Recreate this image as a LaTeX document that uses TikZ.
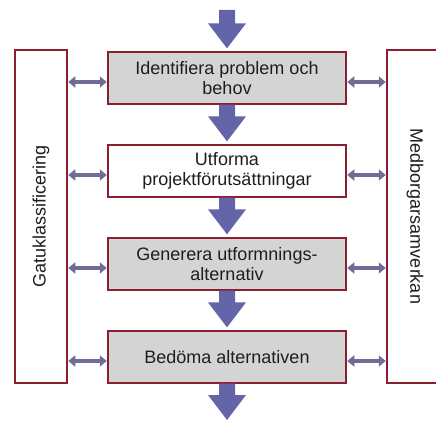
\documentclass[tikz,border=0pt]{standalone}
\usepackage{fontspec}
\setmainfont{Liberation Sans}
\usetikzlibrary{arrows.meta,calc}
\definecolor{boxred}{RGB}{140,30,50}
\definecolor{boxgray}{RGB}{212,212,212}
\definecolor{fatblue}{RGB}{100,100,168}
\definecolor{linkblue}{RGB}{112,108,150}
\definecolor{txt}{RGB}{30,30,30}
\newcommand\fatarrow[2]{%
  \fill[fatblue] ($(#1)+(-8,0)$) -- ($(#2)+(-8,-28)$) -- ($(#2)+(-19,-28)$) -- ($(#2)+(0,-3)$)
    -- ($(#2)+(19,-28)$) -- ($(#2)+(8,-28)$) -- ($(#1)+(8,0)$) -- cycle;}
\begin{document}
\begin{tikzpicture}[x=1pt,y=-1pt,
  stepbox/.style={draw=boxred, line width=1.3pt, minimum width=238pt, minimum height=52pt,
    align=center, inner sep=0pt, text=txt, font=\fontsize{18}{20.5}\selectfont},
  graybox/.style={stepbox, fill=boxgray},
  whitebox/.style={stepbox, fill=white},
  sidebox/.style={draw=boxred, line width=1.3pt, fill=white, inner sep=0pt},
  sidetext/.style={text=txt, font=\fontsize{18}{20.5}\selectfont, inner sep=0pt},
  harrow/.style={draw=linkblue, line width=3.5pt, {Triangle[length=7pt,width=11pt]}-{Triangle[length=7pt,width=11pt]}, shorten <=0.6pt, shorten >=0.6pt}
]
\useasboundingbox (0,0) rectangle (436,422);
% side boxes
\node[sidebox, minimum width=52pt, minimum height=333pt] (lb) at (41,216.5) {};
\node[sidetext, rotate=90] (lt) at (lb.center) {Gatuklassificering};
\node[sidebox, minimum width=56pt, minimum height=333pt] (rb) at (415,216.5) {};
\node[sidetext, rotate=-90] (rt) at (rb.center) {Medborgarsamverkan};
% step boxes
\node[graybox] (b1) at (227,78) {Identifiera problem och\\behov};
\node[whitebox] (b2) at (227,171) {Utforma\\projektförutsättningar};
\node[graybox] (b3) at (227,264) {Generera utformnings-\\alternativ};
\node[graybox] (b4) at (227,357) {Bedöma alternativen};
% flow arrows
\coordinate (in) at (227,10);
\coordinate (out) at (227,423);
\fatarrow{in}{b1.north}
\fatarrow{b1.south}{b2.north}
\fatarrow{b2.south}{b3.north}
\fatarrow{b3.south}{b4.north}
\fatarrow{b4.south}{out}
% links to side boxes
\foreach \b in {b1,b2,b3,b4}{
  \draw[harrow] ([yshift=-4pt]\b.west) -- ([yshift=-4pt]\b.west -| lb.east);
  \draw[harrow] ([yshift=-4pt]\b.east) -- ([yshift=-4pt]\b.east -| rb.west);
}
\end{tikzpicture}
\end{document}
